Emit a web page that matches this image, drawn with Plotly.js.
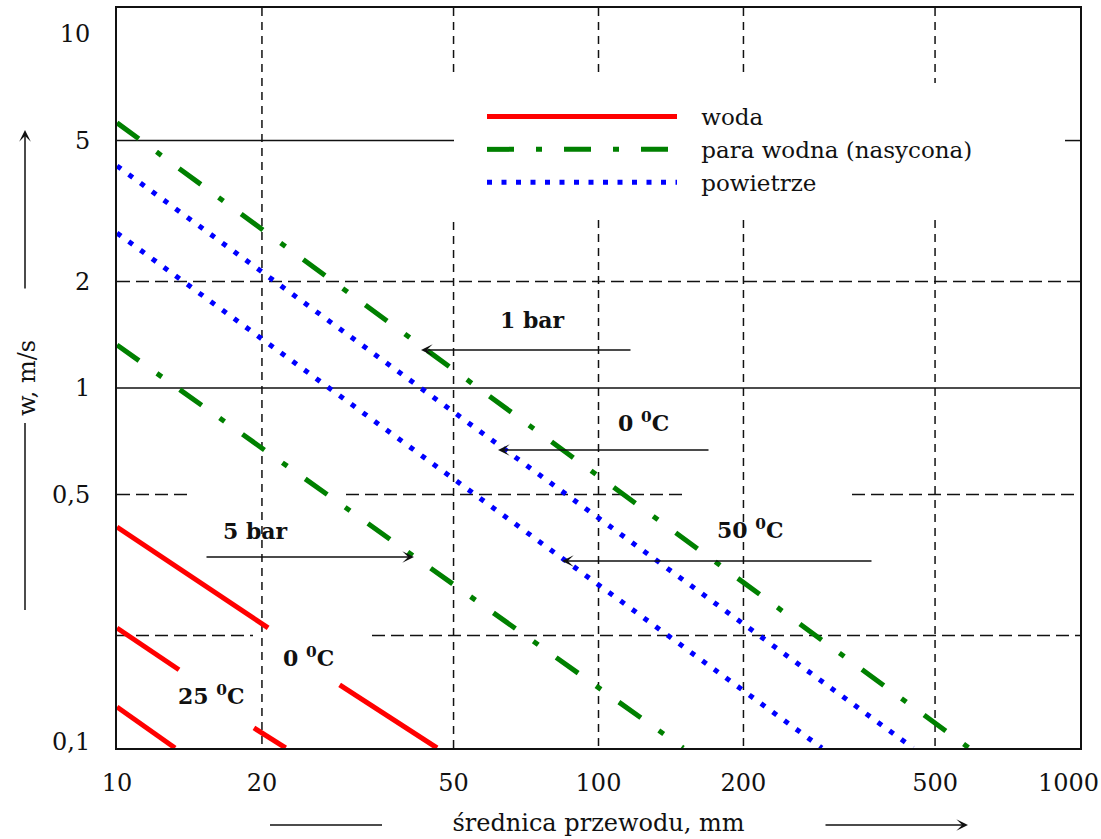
<!DOCTYPE html>
<html><head><meta charset="utf-8">
<script src="https://cdn.plot.ly/plotly-3.0.1.min.js"></script>
<style>html,body{margin:0;padding:0;background:#fff}</style>
</head><body><div id="chart" style="width:1101px;height:839px"></div>
<script>
// Values: pipe diameter d [mm] and velocity w [m/s]; null = gap in the drawn line
const waterD1 = [10, 20.6, null, 29.0, 46.2];
const waterW1 = [0.405, 0.210, null, 0.145, 0.0962];
const waterD2 = [10, 13.45, null, 19.25, 22.4];
const waterW2 = [0.210, 0.160, null, 0.1096, 0.0962];
const waterD3 = [10, 13.2];
const waterW3 = [0.1256, 0.0962];
const steam1barD = [10, 588];
const steam1barW = [5.61, 0.0962];
const steam5barD = [10, 150];
const steam5barW = [1.323, 0.0962];
const air0D = [10, 450];
const air0W = [4.24, 0.0962];
const air50D = [10, 291];
const air50W = [2.74, 0.0962];

const xTicks = [10, 20, 50, 100, 200, 500];
const xTickText = ['10', '20', '50', '100', '200', '500'];
const xEndLabel = '1000';   // last x tick label, drawn tucked inside the page edge
const yTicks = [0.1, 0.5, 1, 2, 5, 10];
const yTickText = ['0,1', '0,5', '1', '2', '5', '10'];
const seriesNames = ['woda', 'para wodna (nasycona)', 'powietrze'];

const FONT = 'DejaVu Serif';
const RED = '#ff0000', GREEN = '#008000', BLUE = '#0000ff';
const waterLine = {color: RED, width: 5};
const steamLine = {color: GREEN, width: 5, dash: '27px,22px,6px,22px'};
const airLine = {color: BLUE, width: 5, dash: '5px,9.5px'};
const PAD = '\u00a0\u00a0\u2009';

function tr(x, y, line, group, name, show) {
  return {type: 'scatter', mode: 'lines', x: x, y: y, line: line, legendgroup: group,
          name: PAD + name, showlegend: show, connectgaps: false, hoverinfo: 'skip'};
}
const data = [
  tr(waterD1, waterW1, waterLine, 'w', seriesNames[0], true),
  tr(waterD2, waterW2, waterLine, 'w', seriesNames[0], false),
  tr(waterD3, waterW3, waterLine, 'w', seriesNames[0], false),
  tr(steam1barD, steam1barW, steamLine, 's', seriesNames[1], true),
  tr(steam5barD, steam5barW, steamLine, 's', seriesNames[1], false),
  tr(air0D, air0W, airLine, 'a', seriesNames[2], true),
  tr(air50D, air50W, airLine, 'a', seriesNames[2], false)
];

// plot-area pixel helpers for decorations
const L = 117, T = 8, W = 963, H = 740;
const PX = p => (p - L) / W;
const PY = p => (T + H - p) / H;

const shapes = [];
function vline(xv, y0, y1) {
  shapes.push({type: 'line', xref: 'x', yref: 'paper', x0: xv, x1: xv, y0: PY(y0), y1: PY(y1),
               line: {color: '#111', width: 1.5, dash: '8px,6px'}, layer: 'below'});
}
function hline(yv, x0, x1, dash) {
  shapes.push({type: 'line', xref: 'paper', yref: 'y', x0: PX(x0), x1: PX(x1), y0: yv, y1: yv,
               line: {color: '#111', width: 1.5, dash: dash ? '13px,6px' : 'solid'}, layer: 'below'});
}
vline(20, 8, 748);
vline(50, 8, 75); vline(50, 222, 748);
vline(100, 8, 75); vline(100, 220, 748);
vline(200, 8, 75); vline(200, 220, 748);
vline(500, 8, 83); vline(500, 220, 748);
hline(5, 117, 454, false); hline(5, 1065, 1080, false);
hline(2, 117, 1080, true);
hline(1, 117, 1080, false);
hline(0.5, 117, 191, true); hline(0.5, 346, 683, true); hline(0.5, 852, 1080, true);
hline(0.2, 117, 253, true); hline(0.2, 372, 1080, true);
// axis-title side lines
shapes.push({type: 'line', xref: 'paper', yref: 'paper', x0: PX(25), x1: PX(25), y0: PY(610), y1: PY(423), line: {color: '#111', width: 1.5}});
shapes.push({type: 'line', xref: 'paper', yref: 'paper', x0: PX(270), x1: PX(382), y0: PY(825), y1: PY(825), line: {color: '#111', width: 1.5}});

const annotations = [];
function arrow(hx, hy, tx, ty) {
  annotations.push({xref: 'paper', yref: 'paper', x: PX(hx), y: PY(hy), ax: tx - hx, ay: ty - hy,
    text: '', showarrow: true, arrowhead: 3, arrowsize: 1.3, arrowwidth: 1.5, arrowcolor: '#111', standoff: 0});
}
function label(cx, cy, txt) {
  annotations.push({xref: 'paper', yref: 'paper', x: PX(cx), y: PY(cy), xanchor: 'center', yanchor: 'middle',
    text: '<b>' + txt + '</b>', showarrow: false, font: {family: FONT, size: 22, color: '#111'}});
}
arrow(421, 350, 632, 350);
arrow(498, 450, 710, 450);
arrow(562, 561, 873, 561);
arrow(414, 557, 205, 557);
arrow(25, 130, 25, 290);
arrow(968, 825, 824, 825);
label(532, 320, '1 bar');
label(643, 422, '0 <sup>0</sup>C');
label(750, 529, '50 <sup>0</sup>C');
label(255, 531, '5 bar');
label(308, 657, '0 <sup>0</sup>C');
label(211, 695, '25 <sup>0</sup>C');
annotations.push({xref: 'paper', yref: 'paper', x: PX(1068), y: PY(783), xanchor: 'center', yanchor: 'middle',
  text: xEndLabel, showarrow: false, font: {family: FONT, size: 24, color: '#111'}});

const layout = {
  width: 1101, height: 839,
  margin: {l: L, r: 1101 - L - W, t: T, b: 839 - T - H},
  paper_bgcolor: '#fff', plot_bgcolor: '#fff',
  font: {family: FONT, size: 24, color: '#111'},
  showlegend: true,
  legend: {x: PX(482), y: PY(95), xanchor: 'left', yanchor: 'top', bgcolor: 'rgba(0,0,0,0)',
           borderwidth: 0, itemwidth: 190, font: {family: FONT, size: 23, color: '#111'},
           tracegroupgap: 0},
  xaxis: {type: 'log', range: [1, 3], tickvals: xTicks, ticktext: xTickText, showgrid: false,
          zeroline: false, showline: true, mirror: true, linecolor: '#111', linewidth: 2,
          ticks: 'outside', ticklen: 12, tickcolor: 'rgba(0,0,0,0)',
          tickfont: {family: FONT, size: 24, color: '#111'},
          title: {text: 'średnica przewodu, mm', font: {family: FONT, size: 24, color: '#111'}, standoff: 18}},
  yaxis: {type: 'log', range: [-1.0169, 1.0734], tickvals: yTicks, ticktext: yTickText, showgrid: false,
          zeroline: false, showline: true, mirror: true, linecolor: '#111', linewidth: 2,
          ticks: 'outside', ticklen: 20, tickcolor: 'rgba(0,0,0,0)',
          tickfont: {family: FONT, size: 24, color: '#111'},
          title: {text: 'w, m/s', font: {family: FONT, size: 24, color: '#111'}, standoff: 10}},
  shapes: shapes,
  annotations: annotations
};
Plotly.newPlot('chart', data, layout, {displayModeBar: false, staticPlot: true});
</script></body></html>
